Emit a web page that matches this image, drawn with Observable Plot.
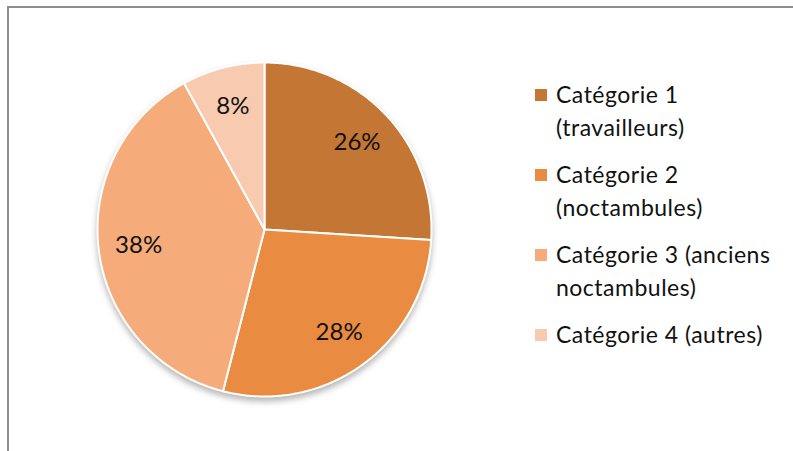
<!DOCTYPE html>
<html><head><meta charset="utf-8">
<script src="https://cdn.jsdelivr.net/npm/d3@7"></script>
<script src="https://cdn.jsdelivr.net/npm/@observablehq/plot@0.6"></script>
<style>
body{margin:0;background:#fff;}
#wrap{position:relative;width:793px;height:451px;overflow:hidden;font-family:Lato,"Open Sans",sans-serif;}
#frame{position:absolute;left:7px;top:6px;width:800px;height:460px;border-left:2px solid #8e8e8e;border-top:2px solid #8e8e8e;box-sizing:border-box;}
#legend{position:absolute;left:535px;top:78px;font-size:23px;letter-spacing:0.5px;line-height:33px;color:#111;}
.item{position:relative;padding-left:21px;margin-bottom:14px;}
.sw{position:absolute;left:0;top:11px;width:12px;height:12px;}
#chart{position:absolute;left:0;top:0;}
</style></head><body>
<div id="wrap"><div id="frame"></div><div id="chart"></div><div id="legend"></div></div>
<script>
const categories = ["Catégorie 1 (travailleurs)", "Catégorie 2 (noctambules)", "Catégorie 3 (anciens noctambules)", "Catégorie 4 (autres)"];
const legendLines = [["Catégorie 1", "(travailleurs)"], ["Catégorie 2", "(noctambules)"], ["Catégorie 3 (anciens", "noctambules)"], ["Catégorie 4 (autres)"]];
const values = [26, 28, 38, 8];
const labels = ["26%", "28%", "38%", "8%"];
const colors = ["#C47634", "#E98C42", "#F5AC7A", "#F8CAB0"];

const arcs = d3.pie().sort(null).startAngle(0).endAngle(2 * Math.PI)(values);
const pts = [];
arcs.forEach((a, i) => {
  pts.push({cat: categories[i], x: 0, y: 0});
  const n = Math.max(4, Math.ceil((a.endAngle - a.startAngle) / 0.01));
  for (let k = 0; k <= n; k++) {
    const t = a.startAngle + (a.endAngle - a.startAngle) * k / n;
    pts.push({cat: categories[i], x: Math.sin(t), y: Math.cos(t)});
  }
});
const lab = arcs.map((a, i) => {
  const m = (a.startAngle + a.endAngle) / 2;
  return {label: labels[i], x: 0.76 * Math.sin(m), y: 0.76 * Math.cos(m)};
});

const plot = Plot.plot({
  width: 793, height: 451,
  margin: 0,
  x: {domain: [-1, 1], range: [97, 431], axis: null},
  y: {domain: [-1, 1], range: [396, 62], axis: null},
  color: {domain: categories, range: colors},
  style: {background: "transparent", overflow: "visible"},
  marks: [
    Plot.dot([{x: 0, y: 0}], {x: "x", y: "y", r: 168, fill: "#7a7a7a", fillOpacity: 0.55, dy: 4, stroke: "none"}),
    Plot.line(pts, {x: "x", y: "y", z: "cat", fill: "cat", stroke: "white", strokeWidth: 2, strokeLinejoin: "round", curve: "linear-closed"}),
    Plot.text(lab, {x: "x", y: "y", text: "label", fontSize: 24, fill: "#111", fontFamily: "Lato, sans-serif"})
  ]
});
const shadow = plot.querySelector('g[aria-label="dot"]');
if (shadow) shadow.style.filter = "blur(3px)";
document.getElementById("chart").appendChild(plot);

const legend = document.getElementById("legend");
legendLines.forEach((lines, i) => {
  const it = document.createElement("div");
  it.className = "item";
  const sw = document.createElement("div");
  sw.className = "sw";
  sw.style.background = colors[i];
  it.appendChild(sw);
  lines.forEach(l => { const d = document.createElement("div"); d.textContent = l; it.appendChild(d); });
  legend.appendChild(it);
});
</script>
</body></html>
